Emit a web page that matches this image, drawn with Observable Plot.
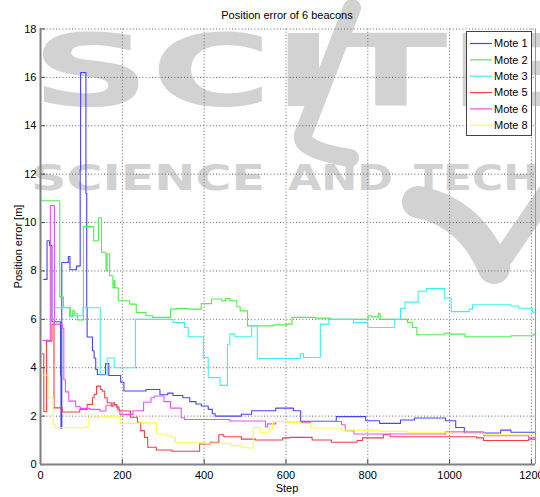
<!DOCTYPE html>
<html><head><meta charset="utf-8">
<script src="https://cdn.jsdelivr.net/npm/d3@7"></script>
<script src="https://cdn.jsdelivr.net/npm/@observablehq/plot@0.6"></script>
<style>
body{margin:0;background:#fff;}
#wrap{position:relative;width:540px;height:497px;overflow:hidden;background:#fff;font-family:"Liberation Sans",Arial,sans-serif;}
#wm{position:absolute;left:0;top:0;}
#chart{position:absolute;left:0;top:0;}
#legend{position:absolute;left:466px;top:31px;}
.t{position:absolute;color:#000;font-size:11px;line-height:13px;white-space:nowrap;text-align:center;}
</style></head>
<body><div id="wrap">
<svg id="wm" width="540" height="497">
  <g fill="#d2d2d2" font-family="DejaVu Sans" font-weight="bold">
    <text x="31" y="106" font-size="99" textLength="530" lengthAdjust="spacingAndGlyphs">SCITE</text>
    <text x="31" y="190" font-size="36" textLength="234" lengthAdjust="spacingAndGlyphs">SCIENCE</text>
    <text x="288" y="190" font-size="36" textLength="105" lengthAdjust="spacingAndGlyphs">AND</text>
    <text x="414" y="190" font-size="36" textLength="323" lengthAdjust="spacingAndGlyphs">TECHNOLOGY</text>
  </g>
  <g stroke="#d2d2d2" fill="none" stroke-linecap="round">
    <path d="M 352 8 L 303 135 Q 300 150 350 158" stroke-width="18"/>
    <path d="M 418 202 Q 470 212 494 268" stroke-width="32"/>
    <path d="M 496 268 L 548 192" stroke-width="20"/>
  </g>
</svg>
<div id="chart"></div>
<svg id="legend" width="67" height="106"></svg>
<div class="t" style="left:135px;top:-19px;text-align:left;font-size:17px;line-height:20px;font-weight:bold;">(a) Localization accuracy</div>
<div class="t" style="left:187px;top:9px;width:200px;">Position error of 6 beacons</div>
<div class="t" style="left:187px;top:482px;width:200px;">Step</div>
<div class="t" style="left:-42.5px;top:239.5px;width:120px;transform:rotate(-90deg);">Position error [m]</div>
</div>
<script>
const motes = ["Mote 1", "Mote 2", "Mote 3", "Mote 5", "Mote 6", "Mote 8"];
const colors = ["#4646f0", "#4fef4f", "#3fefef", "#f04040", "#ef4fef", "#ffff3f"];
const xTicks = [0, 200, 400, 600, 800, 1000, 1200];
const yTicks = [0, 2, 4, 6, 8, 10, 12, 14, 16, 18];
const lastStep = 1210;

const m1Steps = [8,16,22,28,49,50,52,68,72,88,97,98,111,113,114,127,131,135,139,159,167,196,204,258,292,311,324,348,365,380,393,410,420,427,491,516,575,618,636,723,795,829,880,914,990,1015,1036,1125,1150];
const m1Err = [7.65,9.25,9.05,5.9,3.7,1.5,8.35,8.6,8.05,8.2,12.2,16.2,11.2,6.5,5.27,4.7,4.4,3.93,3.72,4.17,3.68,3.4,3.04,3.1,2.88,2.95,2.85,2.76,2.6,2.5,2.42,2.28,2.1,2.0,2.08,2.22,2.33,2.22,1.79,1.98,1.81,1.7,1.84,1.92,1.81,1.53,1.3,1.42,1.33];

const m2Steps = [0,47,56,73,78,84,90,105,130,142,149,160,163,169,177,180,182,190,218,234,258,274,318,332,361,393,418,443,452,463,480,488,506,570,602,615,672,709,801,810,826,830,897,909,920,988,1000,1038,1150,1205];
const m2Err = [10.9,6.93,6.5,6.15,6.35,6.15,5.97,9.83,9.25,10.2,8.77,8.0,8.7,7.8,7.3,7.6,7.3,6.77,6.63,6.28,6.15,6.08,6.42,6.45,6.42,6.65,6.84,6.77,6.86,6.77,6.52,6.35,5.73,5.77,5.8,6.08,6.05,6.0,6.15,6.1,6.25,6.0,5.87,5.66,5.36,5.43,5.39,5.28,5.32,5.39];

const m3Steps = [28,71,80,90,104,146,163,180,232,324,352,361,398,410,439,457,463,475,516,530,635,643,684,705,765,800,866,880,891,923,943,988,1004,1048,1056,1150,1169,1202];
const m3Err = [6.48,6.1,6.25,6.15,6.48,3.7,4.4,4.0,6.0,5.87,5.66,5.28,4.42,3.59,3.27,4.97,5.39,5.28,5.73,4.38,4.58,4.42,5.8,6.0,5.87,5.66,6.0,6.45,6.71,7.16,7.27,6.88,6.32,6.42,6.6,6.55,6.46,6.3];

const m5Steps = [4,8,15,28,33,53,96,114,127,131,137,147,151,157,163,173,177,181,186,192,220,237,245,254,262,283,321,389,415,436,448,491,525,592,609,664,711,774,787,838,855,1066,1083,1193];
const m5Err = [4.58,2.18,5.1,5.8,2.34,2.17,2.28,2.48,2.76,2.9,3.24,3.1,3.03,2.76,2.55,2.41,2.55,2.48,2.37,2.21,1.95,1.74,1.4,1.12,0.71,0.6,0.55,0.85,0.92,1.23,1.15,1.05,1.01,1.1,1.12,1.01,0.92,0.99,1.1,1.23,1.15,1.1,0.99,1.05];

const m6Steps = [6,24,34,53,57,61,69,86,97,121,145,160,188,194,226,252,270,278,302,318,344,352,463,550,555,575,600,660,736,745,766,990,1083,1193];
const m6Err = [5.13,10.7,5.8,5.63,3.5,3.0,2.62,2.4,2.32,2.28,2.21,2.45,2.28,2.07,2.22,2.57,2.76,2.83,2.6,2.33,1.93,1.86,1.8,1.55,1.68,1.78,1.74,1.78,1.64,1.4,1.26,1.35,1.19,1.1];

const m8Steps = [8,18,31,37,114,118,144,195,237,283,305,321,330,398,465,491,508,520,537,558,567,600,635,660,736,829,897,998,1083];
const m8Err = [3.7,2.76,1.66,1.52,1.59,1.95,1.97,1.7,1.72,1.26,1.19,1.12,0.92,0.88,0.78,0.71,0.68,1.53,1.33,1.47,1.78,1.74,1.7,1.51,1.42,1.37,1.33,1.29,1.23];

const series = [[m1Steps,m1Err],[m2Steps,m2Err],[m3Steps,m3Err],[m5Steps,m5Err],[m6Steps,m6Err],[m8Steps,m8Err]];
const rows = [];
series.forEach(([s, e], i) => {
  s.forEach((st, j) => rows.push({mote: motes[i], step: st, err: e[j]}));
  rows.push({mote: motes[i], step: lastStep, err: e[e.length - 1]});
});

const chart = Plot.plot({
  width: 540, height: 497,
  marginLeft: 40, marginRight: 5, marginTop: 28.5, marginBottom: 33,
  style: {background: "transparent", fontFamily: "Liberation Sans, Arial, sans-serif", fontSize: "11px", color: "#000"},
  x: {domain: [0, lastStep], ticks: xTicks, tickSize: 0, tickPadding: 7, label: null, tickFormat: d => String(d)},
  y: {domain: [0, 18], ticks: yTicks, tickSize: 0, tickPadding: 4, label: null, tickFormat: d => String(d)},
  color: {domain: motes, range: colors},
  marks: [
    Plot.ruleX(xTicks, {stroke: "#666", strokeDasharray: "1,2.2", strokeWidth: 1}),
    Plot.ruleY(yTicks, {stroke: "#666", strokeDasharray: "1,2.2", strokeWidth: 1}),
    Plot.line(rows, {x: "step", y: "err", z: "mote", stroke: "mote", curve: "step-after", strokeWidth: 1.1}),
    Plot.ruleX(xTicks, {y1: 0, y2: 0.2, stroke: "#444"}),
    Plot.ruleY(yTicks, {x1: 0, x2: 12, stroke: "#444"}),
    Plot.ruleX([0], {stroke: "#808080", strokeWidth: 2}),
    Plot.ruleY([0], {stroke: "#808080", strokeWidth: 2}),
    Plot.ruleX([lastStep], {stroke: "#999", strokeWidth: 1})
  ]
});
document.getElementById("chart").appendChild(chart);

// legend (drawn from the motes / colors arrays)
const leg = d3.select("#legend");
leg.append("rect").attr("x", 0.5).attr("y", 0.5).attr("width", 65).attr("height", 104)
  .attr("fill", "#fff").attr("stroke", "#444");
motes.forEach((m, i) => {
  const cy = 12.5 + 16.35 * i;
  leg.append("line").attr("x1", 4).attr("x2", 26).attr("y1", cy).attr("y2", cy)
    .attr("stroke", colors[i]).attr("stroke-width", 1.2);
  leg.append("text").attr("x", 28).attr("y", cy).attr("dy", "0.35em")
    .attr("font-family", "Liberation Sans, Arial, sans-serif").attr("font-size", 11).attr("fill", "#000").text(m);
});
</script>
</body></html>
